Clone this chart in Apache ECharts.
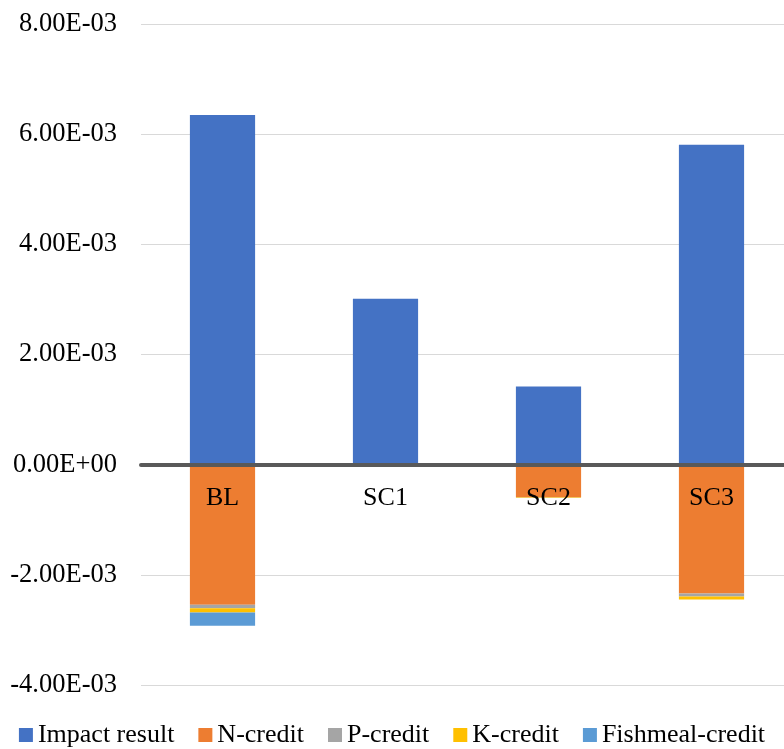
<!DOCTYPE html>
<html>
<head>
<meta charset="utf-8">
<script src="https://cdn.jsdelivr.net/npm/echarts@6/dist/echarts.min.js"></script>
<style>html,body{margin:0;padding:0;background:#fff}#c{width:784px;height:749px}</style>
</head>
<body>
<div id="c"></div>
<script>
var categories = ['BL', 'SC1', 'SC2', 'SC3'];
var impactResult = [6.35e-3, 3.01e-3, 1.42e-3, 5.81e-3];
var nCredit = [-2.545e-3, 0, -0.59e-3, -2.34e-3];
var pCredit = [-0.06e-3, 0, -0.005e-3, -0.054e-3];
var kCredit = [-0.078e-3, 0, -0.01e-3, -0.054e-3];
var fishmealCredit = [-0.243e-3, 0, 0, 0];
var seriesNames = ['Impact result', 'N-credit', 'P-credit', 'K-credit', 'Fishmeal-credit'];
var colors = ['#4472C4', '#ED7D31', '#A5A5A5', '#FFC000', '#5B9BD5'];

function fmt(v) {
  var s = Number(v).toExponential(2);
  var m = s.match(/^(-?[\d.]+)e([+-])(\d+)$/);
  if (!m) return s;
  var e = m[3].length < 2 ? '0' + m[3] : m[3];
  return m[1] + 'E' + m[2] + e;
}

var font = 'Liberation Serif';
var dataSets = [impactResult, nCredit, pCredit, kCredit, fishmealCredit];
var series = dataSets.map(function (d, i) {
  return {
    name: seriesNames[i],
    type: 'bar',
    stack: 'total',
    barWidth: '40%',
    data: d,
    itemStyle: { color: colors[i] }
  };
});

var chart = echarts.init(document.getElementById('c'));
chart.setOption({
  animation: false,
  color: colors,
  grid: { left: 141, width: 652, top: 24, bottom: 64, containLabel: false, outerBoundsMode: 'none' },
  legend: {
    data: seriesNames,
    left: 'center',
    top: 717,
    icon: 'rect',
    itemWidth: 14,
    itemHeight: 14,
    itemGap: 24,
    textStyle: { fontFamily: font, fontSize: 26, color: '#000' }
  },
  xAxis: {
    type: 'category',
    data: categories,
    z: 10,
    axisLine: { onZero: true, lineStyle: { color: '#595959', width: 4 } },
    axisTick: { show: false },
    axisLabel: { fontFamily: font, fontSize: 26, color: '#000', margin: -200 }
  },
  yAxis: {
    type: 'value',
    min: -0.004,
    max: 0.008,
    interval: 0.002,
    axisLine: { show: false },
    axisTick: { show: false },
    splitLine: { lineStyle: { color: '#D9D9D9', width: 1 } },
    axisLabel: { fontFamily: font, fontSize: 26.5, color: '#000', margin: 24, formatter: fmt }
  },
  series: series
});
</script>
</body>
</html>
